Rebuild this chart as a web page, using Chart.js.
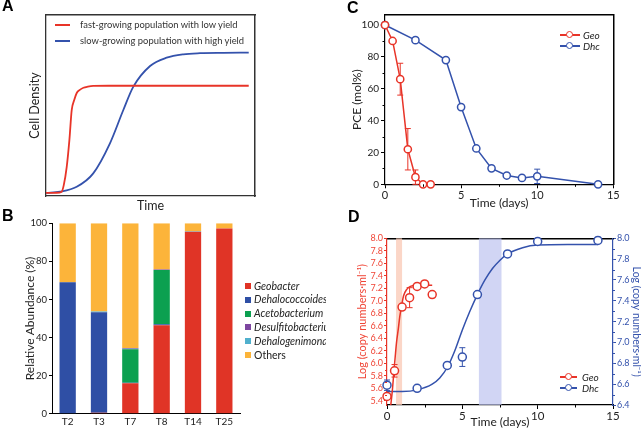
<!DOCTYPE html>
<html>
<head>
<meta charset="utf-8">
<script src="https://cdn.jsdelivr.net/npm/chart.js@4.4.1/dist/chart.umd.min.js"></script>
<style>
  body { margin: 0; width: 641px; height: 429px; overflow: hidden; position: relative; background: #fff; font-family: Lato, sans-serif; color: #222; }
  canvas { position: absolute; display: block; }
  .letter { position: absolute; font: bold 16px "Liberation Sans", Arial, sans-serif; line-height: 16px; color: #000; }
  .lg { position: absolute; height: 12px; line-height: 12px; white-space: nowrap; }
  .lg .ln { position: absolute; top: 5px; height: 1.5px; }
  .lg .dot { position: absolute; top: 2px; width: 5px; height: 5px; border-radius: 50%; background: #fff; border: 1.5px solid; }
  .lg .tx { position: absolute; top: 0; }
  .sq { position: absolute; width: 6px; height: 6px; }
  .bl { position: absolute; font-size: 10.5px; line-height: 12px; white-space: nowrap; }
</style>
</head>
<body>
<canvas id="chartA" width="320" height="215" style="left:0;top:0"></canvas>
<canvas id="chartB" width="250" height="219" style="left:0;top:210px"></canvas>
<div id="legendB"></div>
<canvas id="chartC" width="321" height="210" style="left:320px;top:0;background:#fff"></canvas>
<canvas id="chartD" width="315" height="219" style="left:326px;top:210px;background:#fff"></canvas>

<div class="letter" style="left:2px;top:-2px">A</div>
<div class="letter" style="left:2px;top:208px">B</div>
<div class="letter" style="left:347px;top:0px">C</div>
<div class="letter" style="left:348px;top:209px">D</div>

<div class="lg" style="left:55px;top:19px;font-size:9.4px;color:#333"><div class="ln" style="left:0;width:15px;background:rgb(232,52,40)"></div><div class="tx" style="left:25px">fast-growing population with low yield</div></div>
<div class="lg" style="left:55px;top:35px;font-size:9.4px;color:#333"><div class="ln" style="left:0;width:15px;background:rgb(52,82,172)"></div><div class="tx" style="left:25px">slow-growing population with high yield</div></div>

<div class="lg" style="left:560px;top:29px;font-size:10px;font-style:italic"><div class="ln" style="left:0;width:20px;background:rgb(232,52,40)"></div><div class="dot" style="left:6px;border-color:rgb(232,52,40)"></div><div class="tx" style="left:23px">Geo</div></div>
<div class="lg" style="left:560px;top:40px;font-size:10px;font-style:italic"><div class="ln" style="left:0;width:20px;background:rgb(52,82,172)"></div><div class="dot" style="left:6px;border-color:rgb(52,82,172)"></div><div class="tx" style="left:23px">Dhc</div></div>

<div class="lg" style="left:560px;top:371px;font-size:10px;font-style:italic"><div class="ln" style="left:0;width:17px;background:rgb(232,52,40)"></div><div class="dot" style="left:5px;border-color:rgb(232,52,40)"></div><div class="tx" style="left:22px">Geo</div></div>
<div class="lg" style="left:560px;top:382px;font-size:10px;font-style:italic"><div class="ln" style="left:0;width:17px;background:rgb(52,82,172)"></div><div class="dot" style="left:5px;border-color:rgb(52,82,172)"></div><div class="tx" style="left:22px">Dhc</div></div>

<script>
// ===== A: 増殖曲線の模式図 (図から読み取った点) =====
var fastX = [0, 5, 7.5, 8.5, 9.9, 11.2, 12.3, 13.5, 14.7, 16, 17.9, 20, 22.6, 30, 50, 75, 97];
var fastY = [1.7, 1.8, 2.4, 6, 16, 31, 47.5, 53, 56.9, 58.5, 59.8, 60.4, 60.8, 60.9, 60.9, 60.9, 60.9];
var slowX = [0, 6.7, 14.7, 22.6, 30.6, 37, 41.8, 49.8, 57.7, 65.7, 73.7, 85, 97];
var slowY = [1.7, 2.4, 5.1, 12.5, 29.1, 47.5, 60.4, 71.8, 76.4, 78.3, 78.9, 79.1, 79.2];

// ===== B: 相対存在量 (%) =====
var samplesB = ['T2', 'T3', 'T7', 'T8', 'T14', 'T25'];
var taxaB = ['Geobacter', 'Dehalococcoides', 'Acetobacterium', 'Desulfitobacterium', 'Dehalogenimonas', 'Others'];
var geobacter = [0, 0.5, 16, 46.5, 95.5, 97.3];
var dehalococcoides = [69, 52.8, 0.3, 0.5, 0, 0];
var acetobacterium = [0, 0, 17.5, 28.5, 0, 0];
var desulfitobacterium = [0, 0, 0.4, 0.2, 0, 0];
var dehalogenimonas = [0, 0.4, 0.3, 0, 0.3, 0];
var others = [31, 46.3, 65.5, 24.3, 4.2, 2.7];
var taxaColors = ['rgb(224,52,38)', 'rgb(47,79,165)', 'rgb(12,160,80)', 'rgb(125,70,160)', 'rgb(80,176,205)', 'rgb(252,180,58)'];
var yTicksB = [0, 20, 40, 60, 80, 100];

// ===== C: PCE (mol%) =====
var geoTimeC = [0, 0.5, 1, 1.5, 2, 2.5, 3];
var geoPceC = [100, 90, 66, 22, 4.5, 0, 0];
var geoErrC = [0, 1, 10, 13, 4.5, 0, 0];
var dhcTimeC = [0, 2, 4, 5, 6, 7, 8, 9, 10, 14];
var dhcPceC = [100, 90.5, 78, 48.5, 22.5, 10, 5.5, 4, 5, 0];
var dhcErrC = [0, 1.5, 0, 1.5, 0, 0, 0.5, 0, 4.5, 0];
var xTicksC = [0, 5, 10, 15];
var xMinorC = [2.5, 7.5, 12.5];
var yTicksC = [0, 20, 40, 60, 80, 100];
var yMinorC = [10, 30, 50, 70, 90];

// ===== D: Log (copy numbers/ml) =====
var geoTimeD = [0, 0.5, 1, 1.5, 2, 2.5, 3];
var geoLogD = [5.47, 5.88, 6.9, 7.05, 7.23, 7.27, 7.1];
var geoErrD = [0.04, 0.1, 0.03, 0.16, 0.03, 0.03, 0.03];
var geoFitX = [0.25, 0.35, 0.46, 0.55, 0.64, 0.75, 0.85, 0.97, 1.1, 1.3, 1.55, 2, 3];
var geoFitY = [5.33, 5.55, 5.87, 6.12, 6.35, 6.55, 6.75, 6.92, 7.08, 7.18, 7.23, 7.25, 7.25];
var dhcTimeD = [0, 2, 4, 5, 6, 8, 10, 14];
var dhcLogD = [6.59, 6.56, 6.78, 6.86, 7.46, 7.85, 7.97, 7.98];
var dhcErrD = [0.05, 0.01, 0.01, 0.09, 0.01, 0.01, 0.01, 0.03];
var dhcFitX = [0, 1, 2, 3, 3.5, 4, 4.5, 5, 5.5, 6, 6.5, 7, 7.5, 8, 9, 10, 12, 14];
var dhcFitY = [6.53, 6.53, 6.545, 6.6, 6.66, 6.76, 6.92, 7.12, 7.3, 7.46, 7.6, 7.71, 7.79, 7.85, 7.91, 7.935, 7.94, 7.94];
var bandsD = [[0.6, 1.0, 'rgba(250,200,180,0.75)'], [6.1, 7.6, 'rgba(190,195,240,0.7)']];
var xTicksD = [0, 5, 10, 15];
var xMinorD = [2.5, 7.5, 12.5];
var yTicksL = [5.4, 5.6, 5.8, 6.0, 6.2, 6.4, 6.6, 6.8, 7.0, 7.2, 7.4, 7.6, 7.8, 8.0];
var yMinorL = [5.5, 5.7, 5.9, 6.1, 6.3, 6.5, 6.7, 6.9, 7.1, 7.3, 7.5, 7.7, 7.9];
var yTicksR = [6.4, 6.6, 6.8, 7.0, 7.2, 7.4, 7.6, 7.8, 8.0];
var yMinorR = [6.5, 6.7, 6.9, 7.1, 7.3, 7.5, 7.7, 7.9];

var RED = 'rgb(232,52,40)';
var BLUE = 'rgb(52,82,172)';
var FONT = 'Lato, sans-serif';

function pts(xs, ys) {
    return xs.map(function (x, i) { return { x: x, y: ys[i] }; });
}
function fixTicks(list) {
    return function (axis) { axis.ticks = list.map(function (v) { return { value: v }; }); };
}
// 枠線だけの軸 (上・右)
function edgeAxis(pos, min, max, color, width) {
    return {
        display: true, type: 'linear', position: pos, min: min, max: max,
        ticks: { display: false }, grid: { display: false, drawTicks: false },
        border: { display: true, color: color, width: width },
        afterFit: function (s) { if (s.isHorizontal()) { s.height = 0; } else { s.width = 0; } }
    };
}

// 副目盛り
function makeMinor(list) {
    return {
        id: 'minorTicks',
        afterDraw: function (chart) {
            var ctx = chart.ctx;
            list.forEach(function (m) {
                var sc = chart.scales[m.axis];
                ctx.save();
                ctx.strokeStyle = m.color;
                ctx.lineWidth = 1;
                m.values.forEach(function (v) {
                    var p = Math.round(sc.getPixelForValue(v)) + 0.5;
                    ctx.beginPath();
                    if (sc.isHorizontal()) { ctx.moveTo(p, sc.top); ctx.lineTo(p, sc.top + m.len); }
                    else if (sc.position === 'left') { ctx.moveTo(sc.right, p); ctx.lineTo(sc.right - m.len, p); }
                    else { ctx.moveTo(sc.left, p); ctx.lineTo(sc.left + m.len, p); }
                    ctx.stroke();
                });
                ctx.restore();
            });
        }
    };
}

// 誤差棒
var errorPlugin = {
    id: 'errorBars',
    beforeDatasetsDraw: function (chart) {
        var ctx = chart.ctx;
        chart.data.datasets.forEach(function (ds, di) {
            if (!ds.errors) return;
            var meta = chart.getDatasetMeta(di);
            ctx.save();
            ctx.strokeStyle = ds.borderColor;
            ctx.lineWidth = 1;
            ds.data.forEach(function (p, i) {
                var e = ds.errors[i];
                if (!e) return;
                var x = meta.xScale.getPixelForValue(p.x);
                var y1 = meta.yScale.getPixelForValue(p.y + e);
                var y2 = meta.yScale.getPixelForValue(p.y - e);
                ctx.beginPath();
                ctx.moveTo(x, y1); ctx.lineTo(x, y2);
                ctx.moveTo(x - 3, y1); ctx.lineTo(x + 3, y1);
                ctx.moveTo(x - 3, y2); ctx.lineTo(x + 3, y2);
                ctx.stroke();
            });
            ctx.restore();
        });
    }
};

// 背景の帯
function makeBands(list) {
    return {
        id: 'bands',
        beforeDatasetsDraw: function (chart) {
            var a = chart.chartArea, ctx = chart.ctx, sx = chart.scales.x;
            list.forEach(function (b) {
                var x1 = sx.getPixelForValue(b[0]), x2 = sx.getPixelForValue(b[1]);
                ctx.fillStyle = b[2];
                ctx.fillRect(x1, a.top, x2 - x1, a.bottom - a.top);
            });
        }
    };
}

var common = { responsive: false, animation: false, events: [] };

// ---------- A ----------
new Chart(document.getElementById('chartA'), {
    type: 'line',
    data: {
        datasets: [
            { data: pts(fastX, fastY), borderColor: RED, borderWidth: 1.8, pointRadius: 0, cubicInterpolationMode: 'monotone' },
            { data: pts(slowX, slowY), borderColor: BLUE, borderWidth: 1.8, pointRadius: 0, cubicInterpolationMode: 'monotone' }
        ]
    },
    options: Object.assign({}, common, {
        layout: { padding: { top: 15, right: 65, left: 0, bottom: 0 } },
        plugins: { legend: { display: false }, tooltip: { enabled: false } },
        scales: {
            x: {
                type: 'linear', min: 0, max: 100,
                ticks: { display: false }, grid: { display: false, drawTicks: false }, border: { display: true, color: '#333', width: 1.3 },
                title: { display: true, text: 'Time', color: '#222', font: { family: FONT, size: 12.5 }, padding: { top: 0, bottom: 2 } },
                afterFit: function (s) { s.height = 19; }
            },
            y: {
                min: 0, max: 100,
                ticks: { display: false }, grid: { display: false, drawTicks: false }, border: { display: true, color: '#333', width: 1.3 },
                title: { display: true, text: 'Cell Density', color: '#222', font: { family: FONT, size: 12.5 }, padding: { top: 27, bottom: 0 } },
                afterFit: function (s) { s.width = 46; }
            },
            xTop: edgeAxis('top', 0, 100, '#333', 1.5),
            yRight: edgeAxis('right', 0, 100, '#333', 1.5)
        }
    })
});

// ---------- B ----------
var seriesB = [geobacter, dehalococcoides, acetobacterium, desulfitobacterium, dehalogenimonas, others];
new Chart(document.getElementById('chartB'), {
    type: 'bar',
    data: {
        labels: samplesB,
        datasets: seriesB.map(function (s, i) {
            return { label: taxaB[i], data: s, backgroundColor: taxaColors[i], borderWidth: 0, barPercentage: 0.52, categoryPercentage: 1 };
        })
    },
    options: Object.assign({}, common, {
        layout: { padding: { top: 13.3, right: 10, left: 0, bottom: 0 } },
        plugins: { legend: { display: false }, tooltip: { enabled: false } },
        scales: {
            x: {
                stacked: true,
                ticks: { color: '#222', font: { family: FONT, size: 10 }, padding: 2 },
                grid: { display: false, drawTicks: false }, border: { color: '#000', width: 1 },
                afterFit: function (s) { s.height = 15.3; }
            },
            y: {
                stacked: true, min: 0, max: 100,
                afterBuildTicks: fixTicks(yTicksB),
                ticks: { color: '#222', font: { family: FONT, size: 9.5 }, padding: 2, autoSkip: false },
                grid: { drawOnChartArea: false, tickLength: 3, tickColor: '#000' }, border: { color: '#000', width: 1 },
                title: { display: true, text: 'Relative Abundance (%)', color: '#222', font: { family: FONT, size: 12 }, padding: { top: 23, bottom: 0 } },
                afterFit: function (s) { s.width = 52; }
            }
        }
    })
});

// B の凡例 (HTML)
var legendB = document.getElementById('legendB');
taxaB.forEach(function (name, i) {
    var y = 286 + i * 13.8;
    var sq = document.createElement('div');
    sq.className = 'sq';
    sq.style.left = '245px'; sq.style.top = (y - 3) + 'px'; sq.style.background = taxaColors[i];
    legendB.appendChild(sq);
    var t = document.createElement('div');
    t.className = 'bl';
    t.style.left = '254px'; t.style.top = (y - 6.5) + 'px';
    t.style.fontStyle = name === 'Others' ? 'normal' : 'italic';
    t.textContent = name;
    legendB.appendChild(t);
});

// ---------- C ----------
new Chart(document.getElementById('chartC'), {
    type: 'line',
    data: {
        datasets: [
            { label: 'Geo', data: pts(geoTimeC, geoPceC), errors: geoErrC, borderColor: RED, backgroundColor: '#fff', borderWidth: 1.5, pointRadius: 3.6, pointBorderWidth: 1.5, clip: false },
            { label: 'Dhc', data: pts(dhcTimeC, dhcPceC), errors: dhcErrC, borderColor: BLUE, backgroundColor: '#fff', borderWidth: 1.5, pointRadius: 3.6, pointBorderWidth: 1.5, clip: false }
        ]
    },
    options: Object.assign({}, common, {
        layout: { padding: { top: 15, right: 27.7, left: 0, bottom: 0 } },
        plugins: { legend: { display: false }, tooltip: { enabled: false } },
        scales: {
            x: {
                type: 'linear', min: 0, max: 15,
                afterBuildTicks: fixTicks(xTicksC),
                ticks: { color: '#222', font: { family: FONT, size: 11 }, padding: 1, autoSkip: false },
                grid: { drawOnChartArea: false, tickLength: 4, tickColor: '#000' }, border: { color: '#000', width: 1.2 },
                title: { display: true, text: 'Time (days)', color: '#222', font: { family: FONT, size: 12 }, padding: { top: 0, bottom: 0 } },
                afterFit: function (s) { s.height = 25.7; }
            },
            y: {
                min: 0, max: 106.3,
                afterBuildTicks: fixTicks(yTicksC),
                ticks: { color: '#222', font: { family: FONT, size: 10 }, padding: 2, autoSkip: false },
                grid: { drawOnChartArea: false, tickLength: 4, tickColor: '#000' }, border: { color: '#000', width: 1.2 },
                title: { display: true, text: 'PCE (mol%)', color: '#222', font: { family: FONT, size: 12 }, padding: { top: 29.5, bottom: 0 } },
                afterFit: function (s) { s.width = 65; }
            },
            xTop: edgeAxis('top', 0, 15, '#000', 1.5),
            yRight: edgeAxis('right', 0, 106.3, '#000', 1.5)
        }
    }),
    plugins: [
        makeMinor([{ axis: 'x', values: xMinorC, len: 2.5, color: '#000' }, { axis: 'y', values: yMinorC, len: 2.5, color: '#000' }]),
        errorPlugin
    ]
});

// ---------- D ----------
new Chart(document.getElementById('chartD'), {
    type: 'line',
    data: {
        datasets: [
            { label: 'Geo', data: pts(geoTimeD, geoLogD), errors: geoErrD, yAxisID: 'yL', showLine: false, borderColor: RED, backgroundColor: '#fff', pointRadius: 4, pointBorderWidth: 1.5, clip: false },
            { label: 'Dhc', data: pts(dhcTimeD, dhcLogD), errors: dhcErrD, yAxisID: 'yR', showLine: false, borderColor: BLUE, backgroundColor: '#fff', pointRadius: 4, pointBorderWidth: 1.5, clip: false },
            { label: 'Geo fit', data: pts(geoFitX, geoFitY), yAxisID: 'yL', borderColor: RED, borderWidth: 1.5, pointRadius: 0, cubicInterpolationMode: 'monotone', clip: false },
            { label: 'Dhc fit', data: pts(dhcFitX, dhcFitY), yAxisID: 'yR', borderColor: BLUE, borderWidth: 1.5, pointRadius: 0, cubicInterpolationMode: 'monotone', clip: false }
        ]
    },
    options: Object.assign({}, common, {
        layout: { padding: { top: 28.3, right: 0, left: 0, bottom: 0 } },
        plugins: { legend: { display: false }, tooltip: { enabled: false } },
        scales: {
            x: {
                type: 'linear', min: 0, max: 15,
                afterBuildTicks: fixTicks(xTicksD),
                ticks: { color: '#222', font: { family: FONT, size: 11.5 }, padding: 0, autoSkip: false },
                grid: { drawOnChartArea: false, tickLength: 4, tickColor: '#000' }, border: { color: '#000', width: 1.2 },
                title: { display: true, text: 'Time (days)', color: '#222', font: { family: FONT, size: 12 }, padding: { top: 0, bottom: 0 } },
                afterFit: function (s) { s.height = 24; }
            },
            xTop: edgeAxis('top', 0, 15, '#000', 1.5),
            yL: {
                position: 'left', min: 5.333, max: 8.0,
                afterBuildTicks: fixTicks(yTicksL),
                ticks: { color: 'rgb(240,70,55)', font: { family: FONT, size: 9 }, padding: 1, autoSkip: false, callback: function (v) { return v.toFixed(1); } },
                grid: { drawOnChartArea: false, tickLength: 3, tickColor: RED }, border: { color: RED, width: 1.2 },
                title: { display: true, text: 'Log (copy numbers·ml⁻¹)', color: 'rgb(240,70,55)', font: { family: FONT, size: 11 }, padding: { top: 30, bottom: 0 } },
                afterFit: function (s) { s.width = 61; }
            },
            yR: {
                position: 'right', min: 6.4, max: 8.0,
                afterBuildTicks: fixTicks(yTicksR),
                ticks: { color: BLUE, font: { family: FONT, size: 9 }, padding: 1, autoSkip: false, callback: function (v) { return v.toFixed(1); } },
                grid: { drawOnChartArea: false, tickLength: 3, tickColor: BLUE }, border: { color: BLUE, width: 1.2 },
                title: { display: true, text: 'Log (copy numbers·ml⁻¹)', color: BLUE, font: { family: FONT, size: 10.5 }, padding: { top: -2, bottom: 0 } },
                afterFit: function (s) { s.width = 28; }
            }
        }
    }),
    plugins: [
        makeBands(bandsD),
        makeMinor([
            { axis: 'x', values: xMinorD, len: 2.5, color: '#000' },
            { axis: 'yL', values: yMinorL, len: 2, color: RED },
            { axis: 'yR', values: yMinorR, len: 2, color: BLUE }
        ]),
        errorPlugin
    ]
});
</script>
</body>
</html>
